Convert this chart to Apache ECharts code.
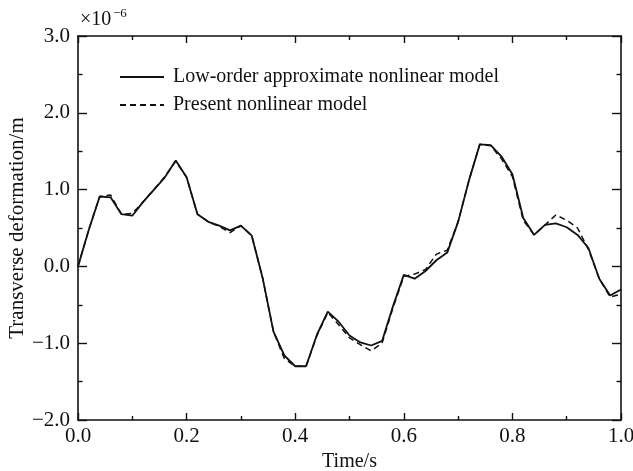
<!DOCTYPE html>
<html>
<head>
<meta charset="utf-8">
<script src="https://cdn.jsdelivr.net/npm/echarts@6/dist/echarts.min.js"></script>
<style>
  html, body { margin: 0; padding: 0; background: #fff; }
  #chart { width: 633px; height: 471px; }
</style>
</head>
<body>
<div id="chart"></div>
<script>
// Time samples (s)
const time = [
  0.00, 0.02, 0.04, 0.06, 0.08, 0.10, 0.12, 0.14, 0.16, 0.18,
  0.20, 0.22, 0.24, 0.26, 0.28, 0.30, 0.32, 0.34, 0.36, 0.38,
  0.40, 0.42, 0.44, 0.46, 0.48, 0.50, 0.52, 0.54, 0.56, 0.58,
  0.60, 0.62, 0.64, 0.66, 0.68, 0.70, 0.72, 0.74, 0.76, 0.78,
  0.80, 0.82, 0.84, 0.86, 0.88, 0.90, 0.92, 0.94, 0.96, 0.98, 1.00
];

// Transverse deformation, in units of 1e-6 m
const lowOrderModel = [
  0.00, 0.48, 0.91, 0.90, 0.68, 0.66, 0.84, 1.00, 1.16, 1.38,
  1.16, 0.68, 0.58, 0.53, 0.47, 0.53, 0.40, -0.15, -0.85, -1.16,
  -1.30, -1.30, -0.89, -0.59, -0.72, -0.90, -0.99, -1.03, -0.97, -0.52,
  -0.11, -0.16, -0.06, 0.08, 0.18, 0.58, 1.12, 1.59, 1.58, 1.43,
  1.20, 0.63, 0.41, 0.54, 0.56, 0.51, 0.41, 0.24, -0.16, -0.38, -0.30
];

const presentModel = [
  0.00, 0.48, 0.91, 0.93, 0.68, 0.69, 0.84, 1.00, 1.17, 1.37,
  1.16, 0.68, 0.58, 0.52, 0.44, 0.53, 0.40, -0.15, -0.85, -1.20,
  -1.30, -1.30, -0.90, -0.60, -0.76, -0.93, -1.02, -1.10, -1.00, -0.54,
  -0.13, -0.10, -0.04, 0.16, 0.21, 0.58, 1.12, 1.59, 1.57, 1.40,
  1.17, 0.60, 0.41, 0.54, 0.67, 0.60, 0.50, 0.22, -0.16, -0.40, -0.36
];

const seriesNames = ['Low-order approximate nonlinear model', 'Present nonlinear model'];

const FONT = '"Liberation Serif", "DejaVu Serif", serif';
const INK = '#111';

function pairs(xs, ys) { return xs.map((x, i) => [x, ys[i]]); }
function fmt(v) { return (v < 0 ? '\u2212' : '') + Math.abs(v).toFixed(1); }

const chart = echarts.init(document.getElementById('chart'), null, { renderer: 'canvas' });

const axisLine = { show: true, onZero: false, lineStyle: { color: INK, width: 1.6 } };
const xTick = { show: true, inside: true, length: 7, lineStyle: { color: INK, width: 1.4 } };
const xMinor = { show: true, splitNumber: 2, length: 4, lineStyle: { color: INK, width: 1.4 } };
const yTick = { show: true, inside: true, length: 9, lineStyle: { color: INK, width: 1.4 } };
const yMinor = { show: true, splitNumber: 2, length: 4.5, lineStyle: { color: INK, width: 1.4 } };

chart.setOption({
  animation: false,
  backgroundColor: '#fff',
  grid: { left: 78, right: 12, top: 36, bottom: 51, containLabel: false, outerBoundsMode: 'none' },
  legend: {
    orient: 'vertical',
    left: 114,
    top: 62,
    itemWidth: 44,
    itemHeight: 14,
    itemGap: 8,
    data: seriesNames,
    itemStyle: { opacity: 0 },
    textStyle: { fontFamily: FONT, fontSize: 20, color: INK, lineHeight: 20, padding: [0, 0, 0, 4] }
  },
  xAxis: [
    {
      type: 'value', min: 0, max: 1, interval: 0.2,
      name: 'Time/s', nameLocation: 'middle', nameGap: 32, nameMoveOverlap: false,
      nameTextStyle: { fontFamily: FONT, fontSize: 20, color: INK },
      axisLine, axisTick: xTick, minorTick: xMinor,
      splitLine: { show: false },
      axisLabel: { fontFamily: FONT, fontSize: 21, color: INK, margin: 6, formatter: fmt }
    },
    {
      type: 'value', min: 0, max: 1, interval: 0.2, position: 'top',
      axisLine, axisTick: xTick, minorTick: xMinor,
      splitLine: { show: false },
      axisLabel: { show: false }
    }
  ],
  yAxis: [
    {
      type: 'value', min: -2, max: 3, interval: 1,
      name: 'Transverse deformation/m', nameLocation: 'middle', nameGap: 50, nameMoveOverlap: false,
      nameTextStyle: { fontFamily: FONT, fontSize: 21, color: INK },
      axisLine, axisTick: yTick, minorTick: yMinor,
      splitLine: { show: false },
      axisLabel: { fontFamily: FONT, fontSize: 21, color: INK, margin: 8, formatter: fmt }
    },
    {
      type: 'value', min: -2, max: 3, interval: 1, position: 'right',
      axisLine, axisTick: yTick, minorTick: yMinor,
      splitLine: { show: false },
      axisLabel: { show: false }
    }
  ],
  graphic: [
    {
      type: 'text', left: 80, top: 10,
      style: { text: '\u00d710', font: '20px ' + FONT, fill: INK }
    },
    {
      type: 'text', left: 113, top: 7,
      style: { text: '\u22126', font: '13px ' + FONT, fill: INK }
    }
  ],
  series: [
    {
      name: seriesNames[0], type: 'line', xAxisIndex: 0, yAxisIndex: 0,
      data: pairs(time, lowOrderModel),
      symbol: 'none', smooth: false,
      lineStyle: { color: INK, width: 1.8, type: 'solid' },
      itemStyle: { color: INK }
    },
    {
      name: seriesNames[1], type: 'line', xAxisIndex: 0, yAxisIndex: 0,
      data: pairs(time, presentModel),
      symbol: 'none', smooth: false,
      lineStyle: { color: INK, width: 1.5, type: [6, 4] },
      itemStyle: { color: INK }
    }
  ]
});
</script>
</body>
</html>
